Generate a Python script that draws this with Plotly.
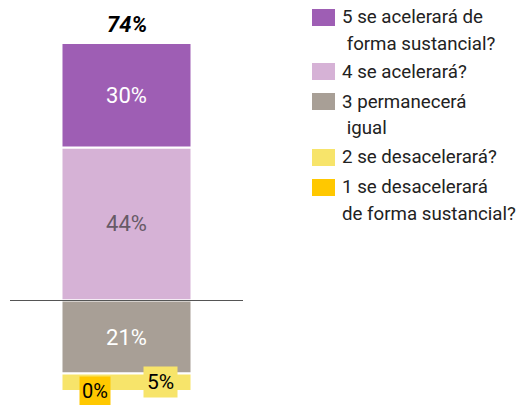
import plotly.graph_objects as go

# --- Data ---
answers = ["5 se acelerará de<br> forma sustancial?", "4 se acelerará?",
           "3 permanecerá<br> igual", "2 se desacelerará?",
           "1 se desacelerará<br>de forma sustancial?"]
shares = [30, 44, 21, 5, 0]          # % of respondents
direction = [1, 1, -1, -1, -1]       # above / below the neutral line
colors = ["#9e5eb4", "#d6b2d6", "#a89f96", "#f7e46a", "#ffc800"]
total_up = 74

FONT = "Roboto"

fig = go.Figure()

# stack order: nearest the baseline first
stack_order = [1, 0, 2, 3, 4]
text_colors = {0: "white", 1: "#675a66", 2: "white"}
for i in stack_order:
    fig.add_trace(go.Bar(
        x=[0], y=[shares[i] * direction[i]],
        width=1.116,
        marker=dict(color=colors[i], line=dict(color="white", width=2)),
        text=[f"{shares[i]}%"] if i in text_colors else None,
        textposition="inside", insidetextanchor="middle",
        textfont=dict(family=FONT, size=22, color=text_colors.get(i, "black")),
        name=answers[i], showlegend=False, hoverinfo="skip",
    ))

fig.update_layout(
    barmode="relative",
    width=517, height=405,
    margin=dict(l=10, r=274, t=0, b=0),
    plot_bgcolor="white", paper_bgcolor="white",
    font=dict(family=FONT),
    xaxis=dict(range=[-1, 1], visible=False, fixedrange=True),
    yaxis=dict(range=[-30.03, 86.35], visible=False, fixedrange=True),
    uniformtext=dict(mode="show", minsize=8),
)

# neutral baseline
fig.add_shape(type="line", xref="paper", x0=0, x1=1, yref="y", y0=0, y1=0,
              line=dict(color="#555555", width=1), layer="above")

# total on top
fig.add_annotation(x=0, y=total_up, text=f"<b><i>{total_up}%</i></b>",
                   showarrow=False, yanchor="bottom", yshift=4,
                   font=dict(family=FONT, size=22, color="black"))

# small segment labels in boxes
fig.add_annotation(x=0.288, y=-(shares[2] + shares[3] / 2),
                   text=f"{shares[3]}%", showarrow=False,
                   bgcolor=colors[3], borderpad=3,
                   font=dict(family=FONT, size=21, color="black"))
fig.add_annotation(x=-0.27, y=-(shares[2] + shares[3]), yshift=0,
                   text=f"{shares[4]}%", showarrow=False,
                   bgcolor=colors[4], borderpad=2,
                   font=dict(family=FONT, size=20, color="black"))

# legend drawn by hand (bigger swatches, looser line spacing)
W, H = 517, 405
plot_l, plot_w = 10, 233
def px(x):
    return (x - plot_l) / plot_w
def py(y):
    return (H - y) / H

item_tops = [9, 63, 93, 149, 179]
for i, label in enumerate(answers):
    top = item_tops[i]
    fig.add_shape(type="rect", xref="paper", yref="paper",
                  x0=px(312), x1=px(335), y0=py(top), y1=py(top + 17),
                  fillcolor=colors[i], line=dict(width=0))
    for k, line in enumerate(label.split("<br>")):
        fig.add_annotation(xref="paper", yref="paper",
                           x=px(340), y=py(top + 8.5 + k * 26.5),
                           text=line.replace(" ", "\u00a0", 1) if line.startswith(" ") else line,
                           showarrow=False, xanchor="left", yanchor="middle",
                           font=dict(family=FONT, size=18.7, color="#222222"))

# drop the default page margin so the figure sits at the window's corner
fig.write_html("out.html", config={"displayModeBar": False},
               post_script="document.body.style.margin='0';")
